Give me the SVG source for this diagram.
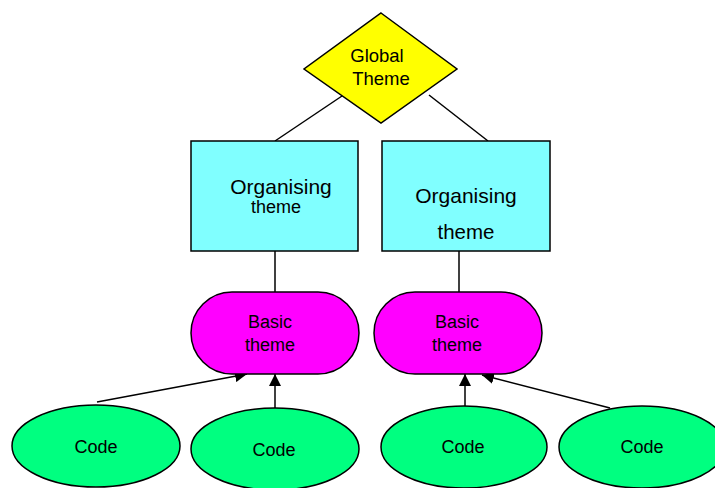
<svg xmlns="http://www.w3.org/2000/svg" width="715" height="488" viewBox="0 0 715 488">
<style>
.s{stroke:#000;stroke-width:1.5}
.t{font-family:"Liberation Sans",Arial,sans-serif;fill:#000;text-anchor:middle}
.c{fill:none;stroke:#000;stroke-width:1.5}
</style>
<defs>
<marker id="ah" viewBox="0 0 12 12" refX="12" refY="6" markerWidth="12" markerHeight="12" markerUnits="userSpaceOnUse" orient="auto">
<path d="M0,0 L12,6 L0,12 Z" fill="#000"/>
</marker>
</defs>
<rect width="715" height="488" fill="#fff"/>
<g id="connectors">
<line class="c" x1="342" y1="96" x2="275" y2="141"/>
<line class="c" x1="429" y1="95" x2="488" y2="141"/>
<line class="c" x1="275" y1="251" x2="275" y2="292"/>
<line class="c" x1="459" y1="251" x2="459" y2="292"/>
<line class="c" x1="97" y1="402" x2="247" y2="374" marker-end="url(#ah)"/>
<line class="c" x1="275" y1="408" x2="275" y2="374" marker-end="url(#ah)"/>
<line class="c" x1="465" y1="406" x2="465" y2="374" marker-end="url(#ah)"/>
<line class="c" x1="610" y1="408" x2="482" y2="375" marker-end="url(#ah)"/>
</g>
<g id="global">
<polygon class="s" fill="#FFFF00" points="381,13 457,69 381,123 304,69"/>
<text class="t" font-size="18.5" x="377" y="62">Global</text>
<text class="t" font-size="18.5" x="381" y="85">Theme</text>
</g>
<g id="org1">
<rect class="s" fill="#80FFFF" x="191" y="141" width="167" height="110"/>
<text class="t" font-size="21" x="281" y="194">Organising</text>
<text class="t" font-size="18" x="276" y="213">theme</text>
</g>
<g id="org2">
<rect class="s" fill="#80FFFF" x="382" y="141" width="168" height="110"/>
<text class="t" font-size="21" x="466" y="203">Organising</text>
<text class="t" font-size="20.5" x="466" y="239">theme</text>
</g>
<g id="basic1">
<rect class="s" fill="#FF00FF" x="191" y="292" width="168" height="82" rx="41" ry="41"/>
<text class="t" font-size="18" x="270" y="328">Basic</text>
<text class="t" font-size="18" x="270" y="351">theme</text>
</g>
<g id="basic2">
<rect class="s" fill="#FF00FF" x="374" y="292" width="168" height="82" rx="41" ry="41"/>
<text class="t" font-size="18" x="457" y="328">Basic</text>
<text class="t" font-size="18" x="457" y="351">theme</text>
</g>
<g id="code1">
<ellipse class="s" fill="#00FF80" cx="96" cy="446" rx="84" ry="41"/>
<text class="t" font-size="18" x="96" y="453">Code</text>
</g>
<g id="code2">
<ellipse class="s" fill="#00FF80" cx="275" cy="449" rx="84" ry="41"/>
<text class="t" font-size="18" x="274" y="456">Code</text>
</g>
<g id="code3">
<ellipse class="s" fill="#00FF80" cx="464" cy="447" rx="83" ry="41"/>
<text class="t" font-size="18" x="463" y="453">Code</text>
</g>
<g id="code4">
<ellipse class="s" fill="#00FF80" cx="642" cy="447" rx="83" ry="41"/>
<text class="t" font-size="18" x="642" y="453">Code</text>
</g>
</svg>
